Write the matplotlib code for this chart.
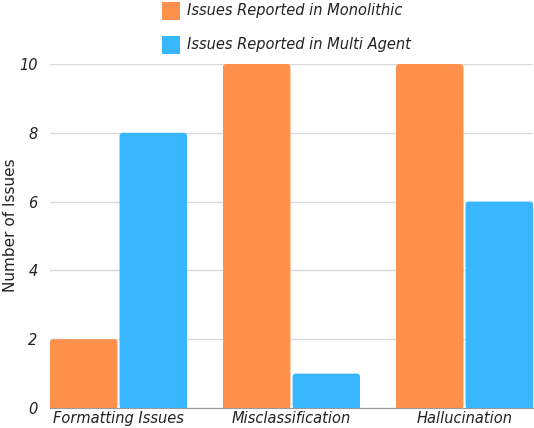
import numpy as np
import matplotlib.pyplot as plt
from matplotlib.patches import FancyBboxPatch

categories = ['Formatting Issues', 'Misclassification', 'Hallucination']
monolithic = [2, 10, 10]
multi_agent = [8, 1, 6]
series_names = ['Issues Reported in Monolithic', 'Issues Reported in Multi Agent']
yticks = [0, 2, 4, 6, 8, 10]

orange = '#FF914D'
blue = '#38B6FF'

plt.rcParams['font.family'] = ['DejaVu Sans']

fig = plt.figure(figsize=(5.34, 4.28), dpi=100)
ax = fig.add_axes([50 / 534, 20 / 428, 483 / 534, 344 / 428])

x = np.arange(len(categories))
w = 0.39
gap = 0.012


def rounded_bars(xs, vals, color):
    bars = ax.bar(xs, vals, width=w, color=color, zorder=3)
    for b in bars:
        b.set_visible(False)
        p = FancyBboxPatch((b.get_x(), 0), b.get_width(), b.get_height(),
                           boxstyle='round,pad=0,rounding_size=0.02',
                           mutation_aspect=10.0 / 344 * 483 / 2.8,
                           fc=color, ec='none', zorder=3)
        ax.add_patch(p)
        # square off the bottom corners
        ax.add_patch(plt.Rectangle((b.get_x(), 0), b.get_width(), min(b.get_height(), 0.3),
                                   fc=color, ec='none', zorder=3))
    return bars


rounded_bars(x - w / 2 - gap / 2, monolithic, orange)
rounded_bars(x + w / 2 + gap / 2, multi_agent, blue)

ax.set_xlim(-w - gap / 2, len(categories) - 1 + w + gap / 2)
ax.set_ylim(0, 10)
ax.set_yticks(yticks)
ax.set_yticklabels([str(t) for t in yticks], fontsize=10.5, style='oblique', color='#222222')
ax.set_xticks(x)
ax.set_xticklabels(categories, fontsize=10.5, style='oblique', color='#222222')
ax.tick_params(length=0, pad=2.5)
ax.tick_params(axis='y', pad=9)
ax.grid(axis='y', color='#D9D9D9', linewidth=1, zorder=0)
for s in ['top', 'right', 'left']:
    ax.spines[s].set_visible(False)
ax.spines['bottom'].set_color('#999999')
ax.spines['bottom'].set_zorder(4)
ax.set_ylabel('Number of Issues', fontsize=11, color='#222222')
ax.yaxis.set_label_coords(-32 / 483, 0.53)

# legend
for i, (name, c) in enumerate(zip(series_names, [orange, blue])):
    yc = 1 - (11 + 34 * i) / 428
    fig.patches.append(plt.Rectangle((162 / 534, yc - 9 / 428), 18 / 534, 18 / 428,
                                     transform=fig.transFigure, fc=c, ec='none'))
    fig.text(187 / 534, yc, name, fontsize=10.5, style='oblique', va='center',
             ha='left', color='#222222')

fig.savefig('out.png', dpi=100)
